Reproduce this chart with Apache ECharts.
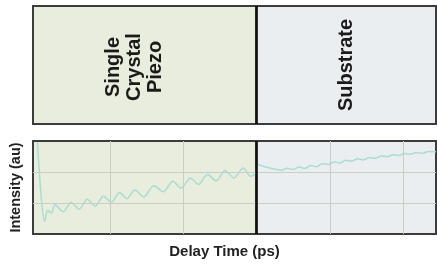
<!DOCTYPE html>
<html>
<head>
<meta charset="utf-8">
<script src="https://cdn.jsdelivr.net/npm/echarts@6/dist/echarts.min.js"></script>
<style>
  html, body { margin: 0; padding: 0; background: #fff; }
  #chart { width: 437px; height: 264px; }
</style>
</head>
<body>
<div id="chart"></div>
<script>
// delay time in grid units (vertical gridlines at 1..5, region boundary at 3)
var xMin = -0.05, xMax = 5.45, boundary = 3;
var regionNames = ["Single\nCrystal\nPiezo", "Substrate"];

// intensity trace
var delay = [
  0.01, 0.11, 0.15, 0.20, 0.25, 0.36, 0.47, 0.58, 0.69, 0.80, 0.91, 1.02,
  1.13, 1.23, 1.34, 1.46, 1.60, 1.73, 1.86, 1.97, 2.10, 2.21, 2.33, 2.45,
  2.57, 2.69, 2.82, 2.92, 3.00,
  3.02, 3.10, 3.18, 3.26, 3.34, 3.42, 3.50, 3.58, 3.66, 3.74, 3.82, 3.90,
  3.98, 4.06, 4.14, 4.22, 4.30, 4.38, 4.46, 4.54, 4.62, 4.70, 4.78, 4.86,
  4.94, 5.02, 5.10, 5.18, 5.26, 5.34, 5.45
];
var intensity = [
  2.97, 0.40, 0.76, 0.68, 0.94, 0.72, 1.02, 0.80, 1.12, 0.90, 1.22, 1.02,
  1.34, 1.14, 1.42, 1.20, 1.56, 1.36, 1.70, 1.48, 1.80, 1.60, 1.92, 1.72,
  2.05, 1.81, 2.13, 1.86, 2.00,
  2.24, 2.18, 2.13, 2.09, 2.06, 2.12, 2.08, 2.16, 2.12, 2.21, 2.17, 2.27,
  2.24, 2.33, 2.29, 2.38, 2.35, 2.43, 2.39, 2.47, 2.44, 2.52, 2.49, 2.56,
  2.53, 2.60, 2.57, 2.63, 2.60, 2.66, 2.65
];
var gridX = [1, 2, 4, 5];
var gridY = [1, 2];

var font = '"Liberation Sans", Arial, Helvetica, sans-serif';
var piezoFill = "#e8eddd";
var substrateFill = "#eaeef1";
var border = "#3c3c3c";

var points = delay.map(function (d, i) { return [d, intensity[i]]; });

function regions(yTop) {
  return {
    silent: true,
    itemStyle: { borderColor: border, borderWidth: 2 },
    label: { show: false },
    data: [
      [{ xAxis: xMin, yAxis: 0, itemStyle: { color: piezoFill } }, { xAxis: boundary, yAxis: yTop }],
      [{ xAxis: boundary, yAxis: 0, itemStyle: { color: substrateFill } }, { xAxis: xMax, yAxis: yTop }]
    ]
  };
}

function divider() {
  return {
    silent: true,
    symbol: "none",
    label: { show: false },
    lineStyle: { color: "#111", width: 2.5, type: "solid" },
    data: [{ xAxis: boundary }]
  };
}

var plainX = {
  type: "value", min: xMin, max: xMax,
  axisLine: { show: false }, axisTick: { show: false },
  axisLabel: { show: false }, splitLine: { show: false }
};

var chart = echarts.init(document.getElementById("chart"), null, { renderer: "canvas" });
chart.setOption({
  animation: false,
  grid: [
    { left: 33, right: 1, top: 6, height: 118 },
    { left: 33, right: 1, top: 141, height: 93 }
  ],
  xAxis: [
    Object.assign({ gridIndex: 0 }, plainX),
    Object.assign({ gridIndex: 1 }, plainX, {
      name: "Delay Time (ps)",
      nameLocation: "middle",
      nameGap: 10,
      nameTextStyle: {
        fontFamily: font, fontWeight: "bold", fontSize: 15, color: "#222",
        verticalAlign: "top", padding: [0, 20, 0, 0]
      }
    })
  ],
  yAxis: [
    {
      gridIndex: 0, type: "value", min: 0, max: 1,
      axisLine: { show: false }, axisTick: { show: false },
      axisLabel: { show: false }, splitLine: { show: false }
    },
    {
      gridIndex: 1, type: "value", min: 0, max: 3, interval: 1,
      axisLine: { show: false }, axisTick: { show: false },
      axisLabel: { show: false }, splitLine: { show: false },
      name: "Intensity (au)",
      nameLocation: "middle",
      nameGap: 10,
      nameTextStyle: { fontFamily: font, fontWeight: "bold", fontSize: 14.5, color: "#222" }
    }
  ],
  series: [
    // top panel: regions and divider
    { type: "line", xAxisIndex: 0, yAxisIndex: 0, data: [], z: 1, markArea: regions(1) },
    { type: "line", xAxisIndex: 0, yAxisIndex: 0, data: [], z: 4, markLine: divider() },
    // bottom panel: regions, gridlines, trace, divider
    { type: "line", xAxisIndex: 1, yAxisIndex: 1, data: [], z: 1, markArea: regions(3) },
    {
      type: "line", xAxisIndex: 1, yAxisIndex: 1, data: [], z: 2,
      markLine: {
        silent: true, symbol: "none", label: { show: false },
        lineStyle: { color: "#c9cec4", width: 1, type: "solid" },
        data: gridX.map(function (v) { return { xAxis: v }; })
          .concat(gridY.map(function (v) { return { yAxis: v }; }))
      }
    },
    {
      type: "line", xAxisIndex: 1, yAxisIndex: 1, data: points, z: 3,
      showSymbol: false, smooth: 0.3,
      lineStyle: { color: "#a9ddd1", width: 1.5 }
    },
    { type: "line", xAxisIndex: 1, yAxisIndex: 1, data: [], z: 4, markLine: divider() }
  ],
  graphic: [
    {
      type: "text", x: 134, y: 67, rotation: Math.PI / 2, z: 10,
      style: {
        text: regionNames[0], fill: "#1a1a1a",
        font: "bold 20px " + font, lineHeight: 21,
        textAlign: "center", textVerticalAlign: "middle"
      }
    },
    {
      type: "text", x: 346, y: 65, rotation: Math.PI / 2, z: 10,
      style: {
        text: regionNames[1], fill: "#1a1a1a",
        font: "bold 20px " + font,
        textAlign: "center", textVerticalAlign: "middle"
      }
    }
  ]
});
</script>
</body>
</html>
